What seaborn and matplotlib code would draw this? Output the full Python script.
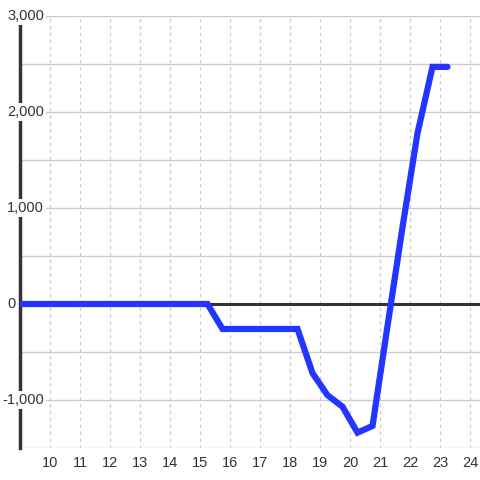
import numpy as np
import pandas as pd
import seaborn as sns
import matplotlib.pyplot as plt

# values
hours = [8.75, 9.25, 9.75, 10.25, 10.75, 11.25, 11.75, 12.25, 12.75, 13.25, 13.75,
         14.25, 14.75, 15.25, 15.75, 16.25, 16.75, 17.25, 17.75, 18.25, 18.75,
         19.25, 19.75, 20.25, 20.75, 21.25, 21.75, 22.25, 22.75, 23.25]
values = [0, 0, 0, 0, 0, 0, 0, 0, 0, 0, 0,
          0, 0, 0, -260, -260, -260, -260, -260, -260, -720,
          -950, -1070, -1340, -1270, -230, 800, 1780, 2470, 2470]
y_ticks = [-1000, 0, 1000, 2000, 3000]
y_labels = ['-1,000', '0', '1,000', '2,000', '3,000']
x_ticks = list(range(10, 25))

df = pd.DataFrame({'hour': hours, 'value': values})

sns.set_style('white')
plt.rcParams['font.family'] = ['Liberation Sans', 'DejaVu Sans']

fig = plt.figure(figsize=(4.8, 4.8), dpi=100)
ax = fig.add_axes([20 / 480, 1 - 448 / 480, 1 - 20 / 480, (448 - 16) / 480])

ax.set_xlim(9, 24.333)
ax.set_ylim(-1500, 3000)

# grid
for g in np.arange(-1500, 3001, 500):
    ax.axhline(g, color='#cccccc', lw=1, zorder=0)
for t in x_ticks:
    ax.axvline(t, color='#c8c8c8', lw=0.9, ls=(0, (2.5, 3)), zorder=0)
ax.axhline(0, color='#333333', lw=2.2, zorder=1)

sns.lineplot(data=df, x='hour', y='value', ax=ax, color='#2236ff', lw=4.5,
             zorder=6, solid_joinstyle='miter')

for s in ['top', 'right', 'bottom']:
    ax.spines[s].set_visible(False)
ax.spines['left'].set_color('#333333')
ax.spines['left'].set_linewidth(2.5)
ax.spines['left'].set_zorder(4)

ax.set_xticks(x_ticks)
ax.set_xticklabels([str(t) for t in x_ticks])
ax.tick_params(axis='x', length=0, pad=6, labelsize=10.5, labelcolor='#333333')
ax.set_yticks([])
for v, lab in zip(y_ticks, y_labels):
    px = 2 if lab.startswith('-') else 7
    ax.text((px - 20) / 460, v, lab, transform=ax.get_yaxis_transform(),
            ha='left', va='center', fontsize=10.5, color='#333333', zorder=5,
            bbox=dict(facecolor='white', edgecolor='none', pad=1.5))
ax.set_xlabel('')
ax.set_ylabel('')

fig.savefig('out.png', dpi=100)
